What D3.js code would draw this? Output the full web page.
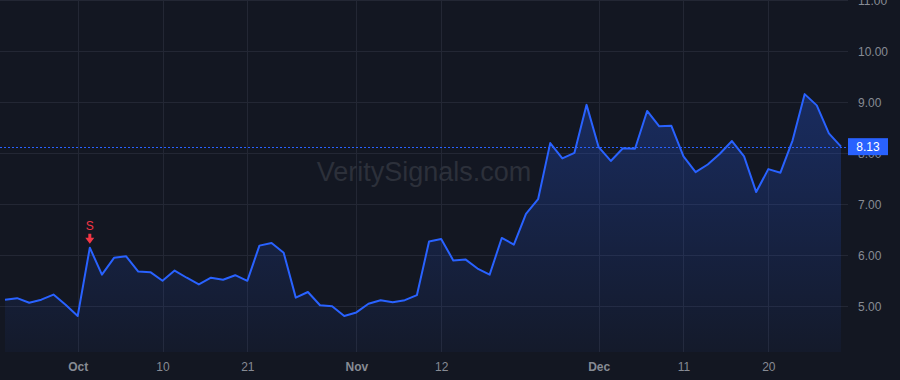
<!DOCTYPE html>
<html>
<head>
<meta charset="utf-8">
<script src="https://cdn.jsdelivr.net/npm/d3@7/dist/d3.min.js"></script>
<style>
  html, body { margin: 0; padding: 0; background: #131722; }
  svg { display: block; font-family: "Liberation Sans", Arial, sans-serif; }
</style>
</head>
<body>
<div id="chart"></div>
<script>
// Trading days, Sep 23 – Dec 31 2024
const dates = [
  '2024-09-23', '2024-09-24', '2024-09-25', '2024-09-26', '2024-09-27', '2024-09-30',
  '2024-10-01', '2024-10-02', '2024-10-03', '2024-10-04', '2024-10-07', '2024-10-08',
  '2024-10-09', '2024-10-10', '2024-10-11', '2024-10-14', '2024-10-15', '2024-10-16',
  '2024-10-17', '2024-10-18', '2024-10-21', '2024-10-22', '2024-10-23', '2024-10-24',
  '2024-10-25', '2024-10-28', '2024-10-29', '2024-10-30', '2024-10-31',
  '2024-11-01', '2024-11-04', '2024-11-05', '2024-11-06', '2024-11-07', '2024-11-08',
  '2024-11-11', '2024-11-12', '2024-11-13', '2024-11-14', '2024-11-15', '2024-11-18',
  '2024-11-19', '2024-11-20', '2024-11-21', '2024-11-22', '2024-11-25', '2024-11-26',
  '2024-11-27', '2024-11-29',
  '2024-12-02', '2024-12-03', '2024-12-04', '2024-12-05', '2024-12-06', '2024-12-09',
  '2024-12-10', '2024-12-11', '2024-12-12', '2024-12-13', '2024-12-16', '2024-12-17',
  '2024-12-18', '2024-12-19', '2024-12-20', '2024-12-23', '2024-12-24', '2024-12-26',
  '2024-12-27', '2024-12-30', '2024-12-31',
];

const closes = [
  5.13, 5.16, 5.07, 5.13, 5.23, 5.03,
  4.81, 6.15, 5.62, 5.95, 5.98, 5.68,
  5.67, 5.50, 5.70, 5.56, 5.43, 5.56,
  5.52, 5.61, 5.50, 6.19, 6.24, 6.05,
  5.17, 5.28, 5.02, 5.00, 4.81,
  4.88, 5.05, 5.12, 5.08, 5.12, 5.22,
  6.27, 6.32, 5.90, 5.92, 5.74, 5.62,
  6.34, 6.21, 6.81, 7.10, 8.20, 7.90,
  8.01, 8.95,
  8.12, 7.85, 8.10, 8.09, 8.83, 8.53,
  8.54, 7.94, 7.63, 7.78, 7.99, 8.24,
  7.94, 7.24, 7.69, 7.62, 8.25, 9.16,
  8.94, 8.39, 8.13,
];

const timeTicks = ['2024-10-01', '2024-10-10', '2024-10-21', '2024-11-01', '2024-11-12',
  '2024-12-02', '2024-12-11', '2024-12-20'];
const timeTickLabels = ['Oct', '10', '21', 'Nov', '12', 'Dec', '11', '20'];
const monthTicks = ['Oct', 'Nov', 'Dec'];

const priceTicks = [5, 6, 7, 8, 9, 10, 11];

const signals = [{ date: '2024-10-02', label: 'S' }];

const WIDTH = 900;
const HEIGHT = 380;
const PANE = { width: 848, height: 352 };
const LINE_COLOR = '#2962ff';
const GRID_COLOR = '#232734';
const TEXT_COLOR = '#878b94';

const data = dates.map((d, i) => ({ date: d, value: closes[i] }));
const last = data[data.length - 1];

const svg = d3.select('#chart').append('svg')
  .attr('width', WIDTH)
  .attr('height', HEIGHT);

svg.append('rect')
  .attr('width', WIDTH).attr('height', HEIGHT)
  .attr('fill', '#131722');

const x = d3.scalePoint()
  .domain(dates)
  .range([5, 841]);

const y = d3.scaleLinear()
  .domain([5, 11])
  .range([306.3, 0.3]);

// Area gradient (from highest point down to the pane bottom)
const grad = svg.append('defs').append('linearGradient')
  .attr('id', 'areaFill')
  .attr('gradientUnits', 'userSpaceOnUse')
  .attr('x1', 0).attr('x2', 0)
  .attr('y1', y(d3.max(closes))).attr('y2', PANE.height);
grad.append('stop').attr('offset', 0).attr('stop-color', LINE_COLOR).attr('stop-opacity', 0.28);
grad.append('stop').attr('offset', 1).attr('stop-color', LINE_COLOR).attr('stop-opacity', 0.04);

// Grid
const grid = svg.append('g');
grid.selectAll('.hgrid')
  .data(priceTicks)
  .join('line')
  .attr('x1', 0).attr('x2', PANE.width)
  .attr('y1', d => Math.round(y(d)) + 0.5).attr('y2', d => Math.round(y(d)) + 0.5)
  .attr('stroke', GRID_COLOR)
  .attr('stroke-width', 1);
grid.selectAll('.vgrid')
  .data(timeTicks)
  .join('line')
  .attr('x1', d => Math.round(x(d)) + 0.5).attr('x2', d => Math.round(x(d)) + 0.5)
  .attr('y1', 0).attr('y2', PANE.height)
  .attr('stroke', GRID_COLOR)
  .attr('stroke-width', 1);

// Watermark
svg.append('text')
  .attr('x', PANE.width / 2)
  .attr('y', 172)
  .attr('dy', '0.35em')
  .attr('text-anchor', 'middle')
  .attr('font-size', 27)
  .attr('fill', '#2c303a')
  .text('VeritySignals.com');

// Area + line
const area = d3.area()
  .x(d => x(d.date))
  .y0(PANE.height)
  .y1(d => y(d.value));
svg.append('path')
  .datum(data)
  .attr('d', area)
  .attr('fill', 'url(#areaFill)');

const line = d3.line()
  .x(d => x(d.date))
  .y(d => y(d.value));
svg.append('path')
  .datum(data)
  .attr('d', line)
  .attr('fill', 'none')
  .attr('stroke', LINE_COLOR)
  .attr('stroke-width', 2)
  .attr('stroke-linejoin', 'round');

// Last price line
svg.append('line')
  .attr('x1', 0).attr('x2', PANE.width)
  .attr('y1', Math.round(y(last.value)) + 0.5).attr('y2', Math.round(y(last.value)) + 0.5)
  .attr('stroke', LINE_COLOR)
  .attr('stroke-width', 1)
  .attr('stroke-dasharray', '2,2');

// Signal markers
const sig = svg.append('g').selectAll('g')
  .data(signals)
  .join('g')
  .attr('transform', d => `translate(${x(d.date)},${y(closes[dates.indexOf(d.date)])})`);
sig.append('path')
  .attr('d', 'M-1.5,-14 L1.5,-14 L1.5,-10 L4.5,-10 L0,-4 L-4.5,-10 L-1.5,-10 Z')
  .attr('fill', '#f23645');
sig.append('text')
  .attr('y', -18)
  .attr('text-anchor', 'middle')
  .attr('font-size', 12)
  .attr('fill', '#f23645')
  .text(d => d.label);

// Price scale
const yAxis = svg.append('g')
  .attr('transform', `translate(${PANE.width},0)`)
  .call(d3.axisRight(y).tickValues(priceTicks).tickSize(0).tickPadding(10)
    .tickFormat(d3.format('.2f')));
yAxis.select('.domain').remove();
yAxis.selectAll('text')
  .attr('font-family', '"Liberation Sans", Arial, sans-serif')
  .attr('font-size', 12)
  .attr('fill', TEXT_COLOR);

// Last price label
const lastY = y(last.value);
svg.append('rect')
  .attr('x', PANE.width).attr('y', lastY - 8.5)
  .attr('width', 40).attr('height', 17)
  .attr('fill', LINE_COLOR);
svg.append('text')
  .attr('x', PANE.width + 20).attr('y', lastY)
  .attr('dy', '0.35em')
  .attr('text-anchor', 'middle')
  .attr('font-size', 12)
  .attr('fill', '#ffffff')
  .text(d3.format('.2f')(last.value));

// Time scale
const xAxis = svg.append('g')
  .attr('transform', `translate(0,${PANE.height})`)
  .call(d3.axisBottom(x).tickValues(timeTicks).tickSize(0).tickPadding(10)
    .tickFormat((d, i) => timeTickLabels[i]));
xAxis.select('.domain').remove();
xAxis.selectAll('text')
  .attr('font-family', '"Liberation Sans", Arial, sans-serif')
  .attr('font-size', 12)
  .attr('fill', TEXT_COLOR)
  .attr('font-weight', (d, i) => monthTicks.includes(timeTickLabels[i]) ? 'bold' : 'normal');
</script>
</body>
</html>
